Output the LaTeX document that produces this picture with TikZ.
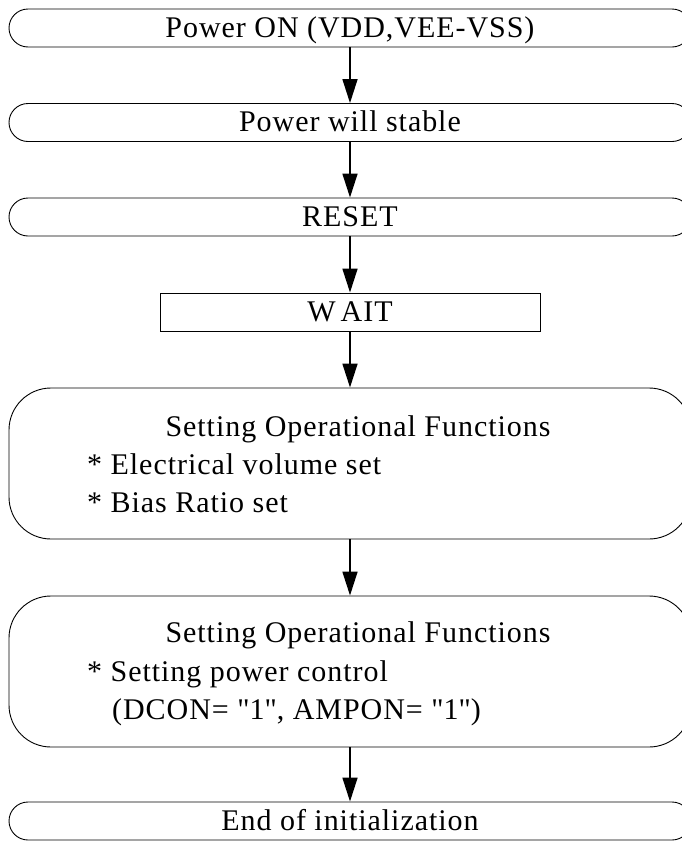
\documentclass[tikz,border=0pt]{standalone}
\usepackage{fontspec}
\setmainfont[LetterSpace=3.2]{Liberation Serif}
\usetikzlibrary{arrows.meta}
\begin{document}
\begin{tikzpicture}[x=1pt,y=-1pt,
  txt/.style={font=\fontsize{30}{34}\selectfont, inner sep=0pt, text height=24pt, text depth=5.4pt},
  roundbox/.style={draw, line width=0.9pt, rounded corners=19pt, minimum width=682pt, minimum height=38pt, inner sep=0pt, txt},
  bigbox/.style={draw, line width=0.9pt, rounded corners=42pt, minimum width=682pt, minimum height=151pt, inner sep=0pt},
  rectbox/.style={draw, line width=0.9pt, minimum width=380pt, minimum height=38pt, inner sep=0pt, txt},
  arr/.style={line width=1.6pt, -{Triangle[length=24pt,width=15pt]}}
]
\useasboundingbox (0,0) rectangle (682,841);
\node[roundbox] (p1) at (350,28) {Power ON (VDD,VEE-VSS)};
\node[roundbox] (p2) at (350,122.5) {Power will stable};
\node[roundbox] (p3) at (350,217) {RESET};
\node[rectbox] (w) at (350,312) {W\kern5pt AIT};
\node[bigbox] (s1) at (350,463.5) {};
\node[txt] (s1a) at (358,427) {Setting Operational Functions};
\node[txt, anchor=west] (s1b) at (87,465) {* Electrical volume set};
\node[txt, anchor=west] (s1c) at (87,503) {* Bias Ratio set};
\node[bigbox] (s2) at (350,671.5) {};
\node[txt] (s2a) at (358,633) {Setting Operational Functions};
\node[txt, anchor=west] (s2b) at (87,672) {* Setting power control};
\node[txt, anchor=west] (s2c) at (112,710) {(DCON= \textquotedbl 1\textquotedbl, AMPON= \textquotedbl 1\textquotedbl)};
\node[roundbox] (e) at (350,821) {End of initialization};
\draw[arr] (p1) -- (p2);
\draw[arr] (p2) -- (p3);
\draw[arr] (p3) -- (w);
\draw[arr] (w) -- (s1);
\draw[arr] (s1) -- (s2);
\draw[arr] (s2) -- (e);
\end{tikzpicture}
\end{document}
